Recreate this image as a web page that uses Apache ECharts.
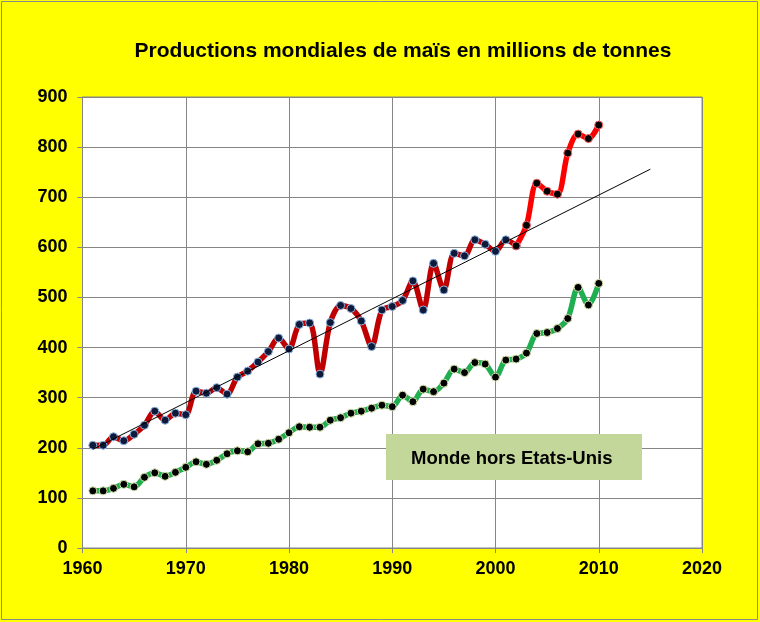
<!DOCTYPE html>
<html>
<head>
<meta charset="utf-8">
<script src="https://cdn.jsdelivr.net/npm/echarts@6/dist/echarts.min.js"></script>
<style>
  html, body { margin: 0; padding: 0; background: #ffff00; }
  #chart { width: 760px; height: 622px; }
</style>
</head>
<body>
<div id="chart"></div>
<script>
// years 1961..2010
const years = []
for (let y = 1961; y <= 2010; y++) years.push(y)

// world production, millions of tonnes
const monde = [205, 205, 222, 214, 227, 245, 273, 255, 269, 266,
  313, 309, 320, 307, 341, 353, 371, 392, 419, 397,
  446, 449, 347, 450, 484, 478, 453, 402, 475, 482,
  494, 533, 475, 568, 515, 588, 583, 615, 606, 592,
  615, 603, 644, 728, 712, 706, 788, 826, 817, 844]

// world without the USA
const mondeHorsUS = [114, 114, 119, 127, 122, 141, 150, 143, 151, 161,
  172, 167, 175, 188, 194, 192, 208, 209, 217, 230,
  242, 241, 241, 255, 260, 269, 273, 279, 285, 282,
  305, 292, 317, 312, 329, 357, 350, 370, 367, 341,
  375, 377, 389, 428, 430, 438, 458, 520, 485, 528]

// linear trend drawn on the chart
const trendYears = [1961, 2015]
const trendValues = [197, 756]

const splitYear = 2002
const xTicks = [1960, 1970, 1980, 1990, 2000, 2010, 2020]

const pairs = (xs, ys) => xs.map((x, i) => [x, ys[i]])
const allWorld = pairs(years, monde)
const worldOld = allWorld.filter(p => p[0] <= splitYear)
const worldNew = allWorld.filter(p => p[0] >= splitYear)

const chart = echarts.init(document.getElementById('chart'))

const font = 'Liberation Sans, Arial, sans-serif'

chart.setOption({
  backgroundColor: '#ffff00',
  animation: false,
  title: {
    text: 'Productions mondiales de maïs en millions de tonnes',
    left: 398, top: 36, textAlign: 'center',
    textStyle: { fontFamily: font, fontWeight: 'bold', fontSize: 21, color: '#000' }
  },
  grid: { left: 82.5, right: 58, top: 97, bottom: 74, show: true,
    backgroundColor: '#fff', borderColor: '#868686', borderWidth: 1 },
  xAxis: {
    type: 'value', min: 1960, max: 2020, interval: 10,
    axisLine: { show: true, onZero: false, lineStyle: { color: '#868686' } },
    axisTick: { show: true, length: 5, lineStyle: { color: '#868686' } },
    splitLine: { show: true, lineStyle: { color: '#868686', width: 1 } },
    axisLabel: { color: '#000', fontFamily: font, fontWeight: 'bold', fontSize: 18, margin: 12,
      formatter: v => xTicks.includes(v) ? String(v) : '' }
  },
  yAxis: {
    type: 'value', min: 0, max: 900, interval: 100,
    axisLine: { show: true, lineStyle: { color: '#868686' } },
    axisTick: { show: true, length: 5, lineStyle: { color: '#868686' } },
    splitLine: { show: true, lineStyle: { color: '#868686', width: 1 } },
    axisLabel: { color: '#000', fontFamily: font, fontWeight: 'bold', fontSize: 18, margin: 15 }
  },
  graphic: [
    { type: 'rect', silent: true, z: -1,
      shape: { x: 1.5, y: 1.5, width: 756, height: 618 },
      style: { fill: 'none', stroke: '#8a8a8a', lineWidth: 1 } },
    { type: 'rect', z: 100,
      shape: { x: 386, y: 434, width: 256, height: 46 },
      style: { fill: '#c4d79b' } },
    { type: 'text', z: 101, left: 411, top: 449,
      style: { text: 'Monde hors Etats-Unis', fill: '#000',
        font: 'bold 18.5px ' + font } }
  ],
  series: [
    {
      name: 'trend', type: 'line', data: pairs(trendYears, trendValues),
      symbol: 'none', lineStyle: { color: '#000', width: 1 }, z: 5
    },
    {
      name: 'Monde hors Etats-Unis', type: 'line', data: pairs(years, mondeHorsUS),
      smooth: 0.3, symbol: 'circle', symbolSize: 8,
      lineStyle: { color: '#1fae50', width: 5.5 },
      itemStyle: { color: '#000', borderColor: '#d6e6a8', borderWidth: 1 }, z: 3
    },
    {
      name: 'Monde', type: 'line', data: worldOld,
      smooth: 0.3, symbol: 'circle', symbolSize: 8,
      lineStyle: { color: '#c00000', width: 5.5 },
      itemStyle: { color: '#0d1a3a', borderColor: '#8db3e2', borderWidth: 1 }, z: 3
    },
    {
      name: 'Monde récent', type: 'line', data: worldNew,
      smooth: 0.3, symbol: 'circle', symbolSize: 8,
      lineStyle: { color: '#ff0000', width: 5.5 },
      itemStyle: { color: '#000', borderColor: '#ff6060', borderWidth: 1 }, z: 4
    }
  ]
})
</script>
</body>
</html>
